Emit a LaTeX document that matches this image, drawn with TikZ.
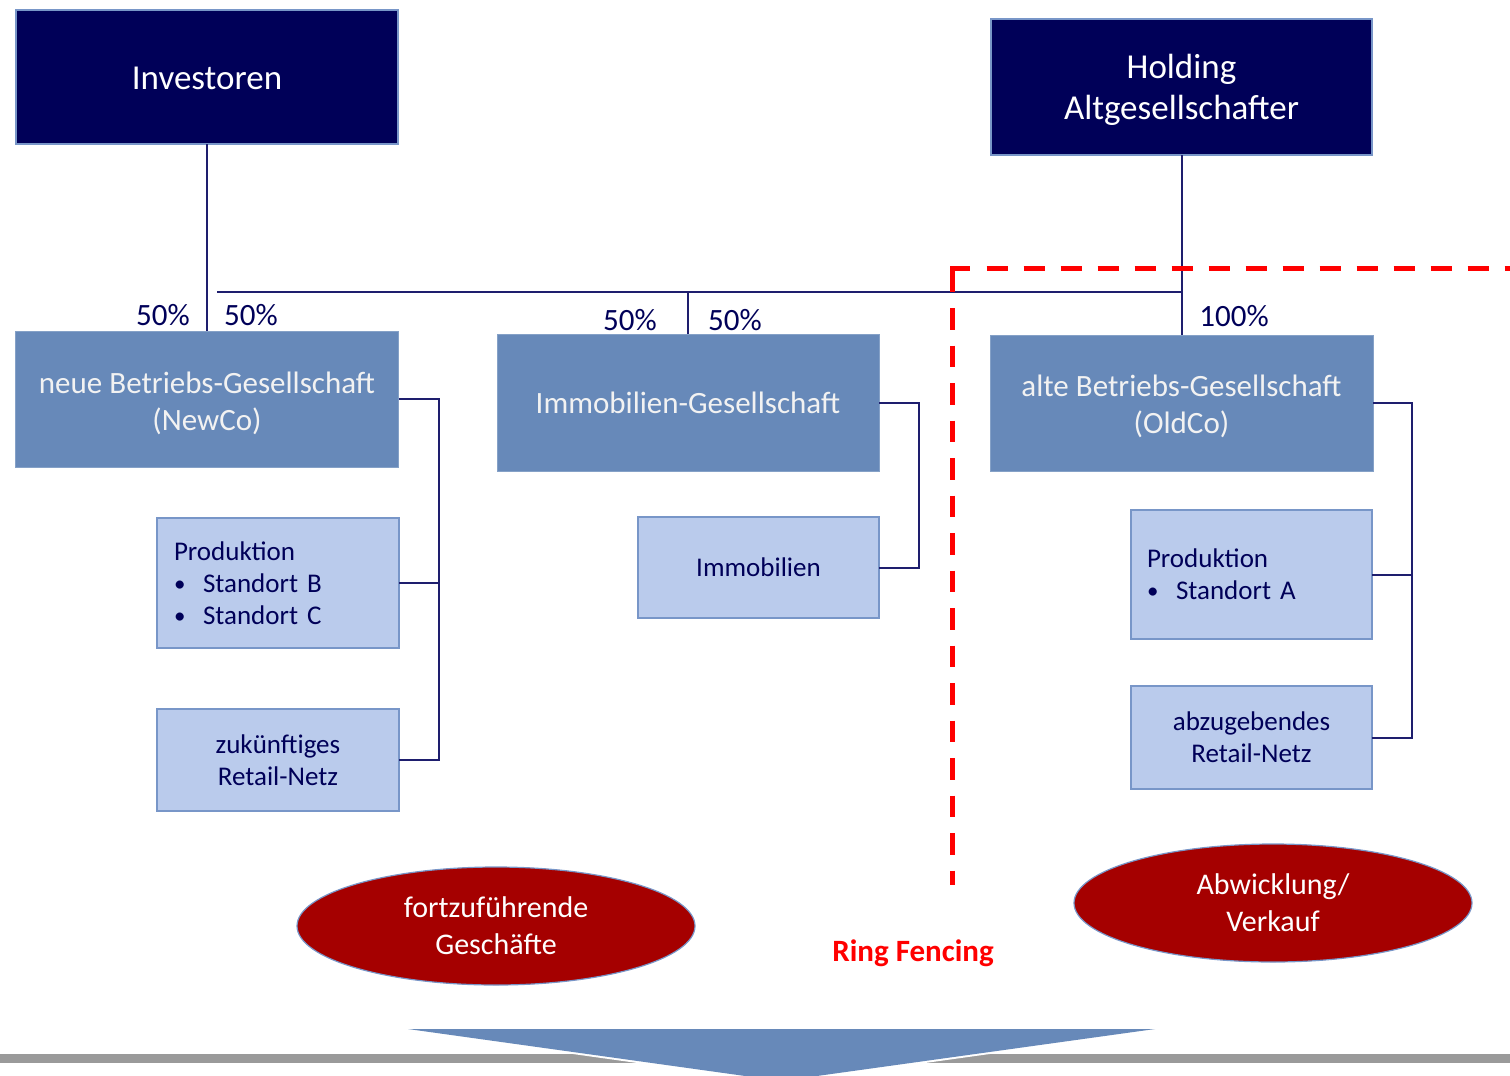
\documentclass[tikz,border=0pt]{standalone}
\usepackage{fontspec}
\setmainfont{Carlito}
\usetikzlibrary{shapes.geometric}
\definecolor{navy}{RGB}{0,0,88}
\definecolor{linenavy}{RGB}{30,30,110}
\definecolor{midblue}{RGB}{103,137,185}
\definecolor{lightblue}{RGB}{186,203,236}
\definecolor{lbborder}{RGB}{120,150,200}
\definecolor{darkred}{RGB}{165,0,0}
\definecolor{barGray}{RGB}{154,154,154}
\definecolor{rfred}{RGB}{255,0,0}
\tikzset{
  topbox/.style={draw=lbborder, line width=1.5pt, fill=navy, text=white, inner sep=0pt, outer sep=0pt, align=center, font=\fontsize{35}{41}\selectfont},
  midbox/.style={draw=midblue!80!white, line width=1pt, fill=midblue, text=white!95!black, inner sep=0pt, outer sep=0pt, align=center, font=\fontsize{31}{37}\selectfont},
  subbox/.style={draw=lbborder, line width=1.5pt, fill=lightblue, text=navy, inner sep=0pt, outer sep=0pt, align=center, font=\fontsize{27}{32}\selectfont},
  pct/.style={text=navy, inner sep=0pt, font=\fontsize{31}{36}\selectfont},
  oval/.style={ellipse, draw=lbborder, line width=1.2pt, fill=darkred, text=white, inner sep=0pt, align=center, minimum width=398pt, minimum height=118pt, font=\fontsize{30}{37}\selectfont},
  conn/.style={draw=linenavy, line width=2pt},
  rfline/.style={draw=rfred, line width=5pt, dash pattern=on 21pt off 16pt},
  rfsolid/.style={draw=rfred, line width=5pt},
}
\newcommand{\bul}{\makebox[29pt][l]{\raisebox{1pt}{\scalebox{0.85}{\textbullet}}}}
\newcommand{\topgap}[1]{\rule{0pt}{#1}}
\begin{document}
\begin{tikzpicture}[x=1pt,y=-1pt]
\useasboundingbox (0,0) rectangle (1510,1076);
% bottom bar and arrow
\fill[barGray] (0,1054) rectangle (1510,1063);
\draw[white, line width=4pt, fill=midblue] (408,1029) -- (1155,1029) -- (781,1081) -- cycle;
\fill[midblue] (408,1029) -- (1155,1029) -- (781,1081) -- cycle;

% boxes
\node[topbox, minimum width=382pt, minimum height=134pt] (inv) at (207,77) {\topgap{26pt}Investoren};
\node[topbox, minimum width=381pt, minimum height=136pt] (hold) at (1181.5,87) {\topgap{30pt}Holding\\Altgesellschafter};
\node[midbox, minimum width=383pt, minimum height=136pt] (newco) at (207,399) {\topgap{30pt}neue Betriebs-Gesellschaft\\(NewCo)};
\node[midbox, minimum width=382pt, minimum height=137pt] (immog) at (688,402.5) {Immobilien-Gesellschaft};
\node[midbox, minimum width=383pt, minimum height=136pt] (oldco) at (1181.5,403) {\topgap{28pt}alte Betriebs-Gesellschaft\\(OldCo)};
\node[subbox, minimum width=242pt, minimum height=130pt, text width=208pt, inner xsep=17pt, align=left] (prodbc) at (278,583) {Produktion\\\bul Standort B\\\bul Standort C};
\node[subbox, minimum width=242pt, minimum height=102pt] (zuk) at (278,760) {zukünftiges\\Retail-Netz};
\node[subbox, minimum width=241pt, minimum height=101pt] (immo) at (758.5,567.5) {Immobilien};
\node[subbox, minimum width=241pt, minimum height=129pt, text width=209pt, inner xsep=16pt, align=left] (proda) at (1251.5,574.5) {Produktion\\\bul Standort A};
\node[subbox, minimum width=241pt, minimum height=103pt] (abz) at (1251.5,737.5) {abzugebendes\\Retail-Netz};

% percentages
\node[pct] (p1) at (163,315) {50\%};
\node[pct] (p2) at (251,315) {50\%};
\node[pct] (p3) at (630,320) {50\%};
\node[pct] (p4) at (735,320) {50\%};
\node[pct] (p5) at (1234,316) {100\%};

% connectors
\coordinate (hl) at (217,292);
\coordinate (hm) at (688,292);
\coordinate (hr) at (1182,292);
\draw[conn] (inv.south) -- (newco.north);
\draw[conn] (hold.south) -- (oldco.north);
\draw[conn] (hl) -- (hr);
\draw[conn] (hm) -- (immog.north);
\draw[conn] (newco.east) -- ++(40,0) coordinate (nb) |- (zuk.east);
\draw[conn] (prodbc.east) -- (prodbc.east -| nb);
\draw[conn] (immog.east) -- ++(40,0) |- (immo.east);
\draw[conn] (oldco.east) -- ++(39,0) coordinate (ob) |- (abz.east);
\draw[conn] (proda.east) -- (proda.east -| ob);

% ring fencing
\coordinate (rfc) at (952,268);
\coordinate (rfv0) at (952,292);
\coordinate (rfh0) at (970,268);
\coordinate (rfv) at (952,308);
\coordinate (rf1) at (952,885);
\coordinate (rfh) at (986.5,268);
\coordinate (rf3) at (1512,268);
\draw[rfsolid, line join=miter] (rfv0) -- (rfc) -- (rfh0);
\draw[rfline, dash pattern=on 21.5pt off 16pt] (rfv) -- (rf1);
\draw[rfline] (rfh) -- (rf3);
\node[text=rfred, font=\fontsize{31}{36}\selectfont\bfseries, inner sep=0pt] (ring) at (913,953) {Ring Fencing};

% ovals
\node[oval] (fort) at (496,926) {fortzuführende\\Geschäfte};
\node[oval] (abw) at (1273,903) {Abwicklung/\\Verkauf};
\end{tikzpicture}
\end{document}
